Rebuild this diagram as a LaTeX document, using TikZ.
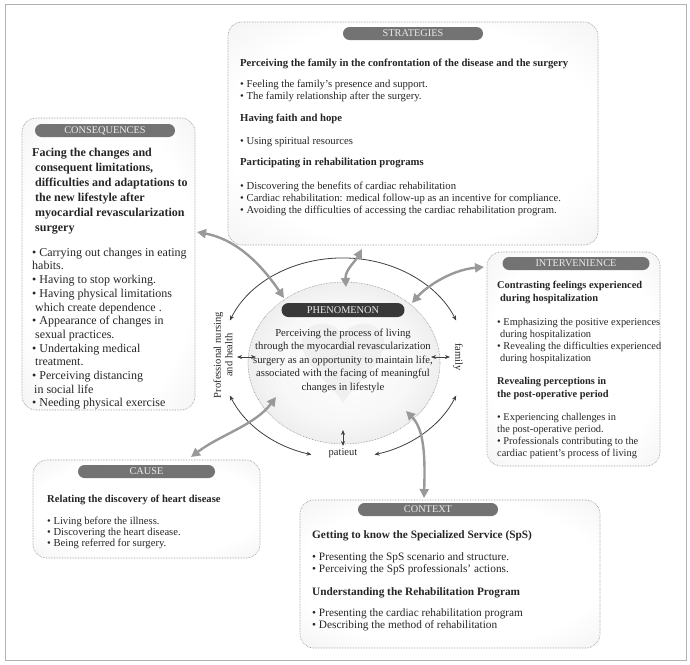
\documentclass[tikz,border=0pt]{standalone}
\usepackage{fontspec}
\setmainfont{Liberation Serif}
\usetikzlibrary{arrows.meta,calc,shapes.geometric}
\pgfdeclareradialshading{boxshade}{\pgfpoint{0bp}{0bp}}{color(0bp)=(white); color(25bp)=(white); color(50bp)=(black!10); color(71bp)=(black!25)}
\pgfdeclareradialshading{ellshade}{\pgfpoint{0bp}{0bp}}{color(0bp)=(white); color(18bp)=(black!3); color(50bp)=(black!19)}
\begin{document}
\begin{tikzpicture}[x=1pt,y=-1pt]
\tikzset{
 box/.style={draw=black!45, densely dotted, line width=0.6pt, rounded corners=14pt, shade, shading=boxshade, inner sep=0pt},
 pill/.style={fill=black!55, text=white!92!black, rounded corners=6.5pt, minimum height=13pt, inner sep=0pt, font=\fontsize{10.3}{10.3}\selectfont},
 txt/.style={anchor=north west, align=left, inner sep=0pt, text=black!85},
 garrow/.style={draw=black!40, line width=2.4pt, {Triangle[length=9pt,width=9pt]}-{Triangle[length=9pt,width=9pt]}},
 darrow/.style={draw=black!75, line width=0.8pt, {Stealth[length=5pt,width=4pt]}-{Stealth[length=5pt,width=4pt]}},
 lbl/.style={inner sep=0pt, text=black!85, font=\fontsize{10.5}{11.5}\selectfont},
}
\fill[white] (0,0) rectangle (690,664);
\useasboundingbox (0,0) rectangle (690,664);
\draw[black!30, line width=0.5pt] (5,4) rectangle (686,660);

% boxes
\node[box, minimum width=370pt, minimum height=223pt] (strat) at (413,133.5) {};
\node[box, minimum width=173pt, minimum height=292pt] (cons) at (108.5,264) {};
\node[box, minimum width=173pt, minimum height=214pt] (interv) at (573.5,359) {};
\node[box, minimum width=227pt, minimum height=98pt] (cause) at (146.5,509) {};
\node[box, minimum width=300pt, minimum height=148pt] (context) at (450,574) {};

% pills
\node[pill, minimum width=140pt] (pstrat) at (413,33.5) {STRATEGIES};
\node[pill, minimum width=140pt] (pcons) at (105,130.5) {CONSEQUENCES};
\node[pill, minimum width=147pt] (pinterv) at (576,263.5) {INTERVENIENCE};
\node[pill, minimum width=137pt] (pcause) at (146.5,471.5) {CAUSE};
\node[pill, minimum width=140pt] (pcontext) at (428,509.5) {CONTEXT};

% texts
\node[txt, font=\fontsize{10.7}{12}\selectfont] (tstrat) at (240,59) {%
\textbf{Perceiving the family in the confrontation of the disease and the surgery}\\[9pt]
• Feeling the family's presence and support.\\
• The family relationship after the surgery.\\[10pt]
\textbf{Having faith and hope}\\[11pt]
• Using spiritual resources\\[9pt]
\textbf{Participating in rehabilitation programs}\\[12pt]
• Discovering the benefits of cardiac rehabilitation\\
• Cardiac rehabilitation: medical follow-up as an incentive for compliance.\\
• Avoiding the difficulties of accessing the cardiac rehabilitation program.};

\node[txt, font=\fontsize{12}{13.7}\selectfont] (tcons) at (32,148) {%
\textbf{Facing the changes and}\\[1.3pt]
\hspace{3pt}\textbf{consequent limitations,}\\[1.3pt]
\hspace{3pt}\textbf{difficulties and adaptations to}\\[1.3pt]
\hspace{3pt}\textbf{the new lifestyle after}\\[1.3pt]
\hspace{3pt}\textbf{myocardial revascularization}\\[1.3pt]
\hspace{3pt}\textbf{surgery}\\[11pt]
• Carrying out changes in eating\\
habits.\\
• Having to stop working.\\
• Having physical limitations\\
\hspace{3pt}which create dependence .\\
• Appearance of changes in\\
\hspace{3pt}sexual practices.\\
• Undertaking medical\\
\hspace{3pt}treatment.\\
• Perceiving distancing\\
\hspace{2pt}in social life\\
• Needing physical exercise};

\node[txt, font=\fontsize{10.4}{12}\selectfont] (tinterv) at (497,280.5) {%
\textbf{Contrasting feelings experienced}\\[1pt]
\hspace{3pt}\textbf{during hospitalization}\\[12pt]
• Emphasizing the positive experiences\\
\hspace{3pt}during hospitalization\\
• Revealing the difficulties experienced\\
\hspace{3pt}during hospitalization\\[11pt]
\textbf{Revealing perceptions in}\\[1pt]
\textbf{the post-operative period}\\[11pt]
• Experiencing challenges in\\
the post-operative period.\\
• Professionals contributing to the\\
cardiac patient's process of living};

\node[txt, font=\fontsize{10.6}{11}\selectfont] (tcause) at (47,495) {%
\textbf{Relating the discovery of heart disease}\\[11pt]
• Living before the illness.\\
• Discovering the heart disease.\\
• Being referred for surgery.};

\node[txt, font=\fontsize{11.3}{12}\selectfont] (tcontext) at (312,530) {%
\textbf{Getting to know the Specialized Service (SpS)}\\[10pt]
• Presenting the SpS scenario and structure.\\
• Perceiving the SpS professionals' actions.\\[11pt]
\textbf{Understanding the Rehabilitation Program}\\[9pt]
• Presenting the cardiac rehabilitation program\\
• Describing the method of rehabilitation};

% phenomenon
\node[ellipse, draw=black!45, densely dotted, line width=0.6pt, shade, shading=ellshade, minimum width=192pt, minimum height=162pt] (phen) at (344,363) {};
\fill[black!6] (343,340) .. controls (343,320) and (303,316) .. (302,342) .. controls (302,366) and (330,382) .. (343,403) .. controls (356,382) and (384,366) .. (384,342) .. controls (383,316) and (343,320) .. (343,340);
\node[pill, fill=black!78, minimum width=123pt, minimum height=14pt, rounded corners=7pt] (pphen) at (343,310) {PHENOMENON};
\node[anchor=north, align=center, inner sep=0pt, text=black!85, font=\fontsize{10.7}{13.5}\selectfont] (tphen) at (343,328.5) {%
Perceiving the process of living\\
through the myocardial revascularization\\
surgery as an opportunity to maintain life,\\
associated with the facing of meaningful\\
changes in lifestyle};

% outer ring arcs
\coordinate (ringc) at (343,358);
\draw[darrow] ($(ringc)+(202:122 and 100)$) arc[start angle=202, end angle=338, x radius=122, y radius=100];
\draw[darrow] ($(ringc)+(158:122 and 100)$) arc[start angle=158, end angle=105, x radius=122, y radius=100];
\draw[darrow] ($(ringc)+(22:122 and 100)$) arc[start angle=22, end angle=75, x radius=122, y radius=100];

% labels
\node[lbl, rotate=90, align=center] (lprof) at (223,355) {Professional nursing\\and health};
\node[lbl, rotate=-90] (lfam) at (458,357) {family};
\node[lbl] (lpat) at (343,453) {patieut};

% small arrows
\coordinate (sl1) at (237,357); \coordinate (sl2) at (256,357);
\coordinate (sr1) at (431,357); \coordinate (sr2) at (450,357);
\coordinate (sb1) at (343,430); \coordinate (sb2) at (343,446);
\draw[darrow] (sl1) -- (sl2);
\draw[darrow] (sr1) -- (sr2);
\draw[darrow] (sb1) -- (sb2);

% gray connectors
\coordinate (c1a) at (197,232); \coordinate (c1b) at (284,298);
\coordinate (c2a) at (362,249); \coordinate (c2b) at (346,287);
\coordinate (c3a) at (484,267); \coordinate (c3b) at (412,303);
\coordinate (c4a) at (191,457); \coordinate (c4b) at (276,397);
\coordinate (c5a) at (406,411); \coordinate (c5b) at (424,498);
\draw[garrow] (c1a) .. controls (240,240) and (265,270) .. (c1b);
\draw[garrow] (c2a) .. controls (355,262) and (345,270) .. (c2b);
\draw[garrow] (c3a) .. controls (450,270) and (425,288) .. (c3b);
\draw[garrow] (c4a) .. controls (220,435) and (255,425) .. (c4b);
\draw[garrow] (c5a) .. controls (425,430) and (425,460) .. (c5b);
\end{tikzpicture}
\end{document}
